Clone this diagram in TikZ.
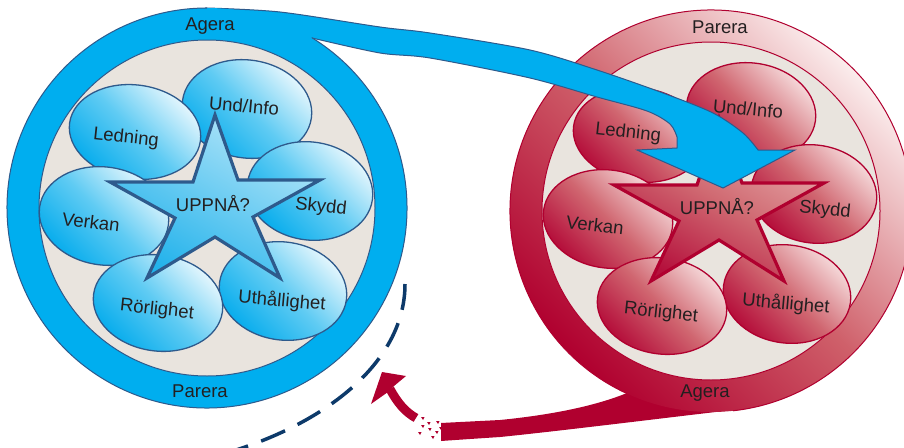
\documentclass[tikz,border=0pt]{standalone}
\usepackage{fontspec}
\setmainfont{Liberation Sans}
\begin{document}
\begin{tikzpicture}[x=1pt,y=-1pt]
\definecolor{cyanB}{HTML}{00AEEF}
\definecolor{navyB}{HTML}{2E5A8C}
\definecolor{beigeC}{HTML}{E9E4DE}
\definecolor{redD}{HTML}{B0002F}
\definecolor{dashcol}{HTML}{0D3A6A}
\definecolor{txtc}{HTML}{231F20}
\definecolor{bLight}{HTML}{F0FAFE}
\definecolor{bMid}{HTML}{5FCBF3}
\definecolor{bDark}{HTML}{00AAEC}
\definecolor{sLightB}{HTML}{B5E6F9}
\definecolor{sDarkB}{HTML}{22B2EB}
\definecolor{rLight}{HTML}{F8E2E2}
\definecolor{rMid}{HTML}{D06670}
\definecolor{rDark}{HTML}{B20535}
\definecolor{srLight}{HTML}{E8AFAF}
\definecolor{srMid}{HTML}{D06A72}
\definecolor{srDark}{HTML}{B5103C}
\definecolor{ringL}{HTML}{FBECEC}
\definecolor{ringM}{HTML}{CF606A}
\tikzset{
 lbl/.style={font=\fontsize{18.5}{21}\selectfont, text=txtc, inner sep=0pt},
 bellB/.style={draw=navyB, line width=1.3pt, top color=bLight, bottom color=bDark, middle color=bMid, shading angle=-45},
 starB/.style={draw=navyB, line width=3.2pt, line join=miter, top color=sLightB, bottom color=sDarkB, shading angle=-30},
 bellR/.style={draw=redD, line width=1.3pt, top color=rLight, bottom color=rDark, middle color=rMid, shading angle=-45},
 starR/.style={draw=redD, line width=3.2pt, line join=miter, top color=srLight, bottom color=srDark, middle color=srMid, shading angle=-30},
}
\newcommand{\Bubbles}[4]{%
  \path[#1, rotate around={-8:(40,-99)}] (40,-99) ellipse [x radius=65, y radius=49];
  \path[#1, rotate around={-8:(103,-17)}] (103,-17) ellipse [x radius=63, y radius=49];
  \path[#1, rotate around={-8:(76,83)}] (76,83) ellipse [x radius=64, y radius=49];
  \path[#1, rotate around={-8:(-72,-76)}] (-72,-76) ellipse [x radius=66, y radius=47];
  \path[#1, rotate around={-8:(-103,8)}] (-103,8) ellipse [x radius=65, y radius=49];
  \path[#1, rotate around={-8:(-49,95)}] (-49,95) ellipse [x radius=65, y radius=48];
  \path[#2] (8,-93) -- (31,-28) -- (113,-28) -- (46,9) -- (73,70) -- (8,29) -- (-60,70) -- (-32,10) -- (-97,-26) -- (-14,-26) -- cycle;
  \node[lbl, rotate=-6] (#3led) at #4 {Ledning};
  \node[lbl, rotate=-5] (#3und) at (37,-102) {Und/Info};
  \node[lbl, rotate=-6] (#3sky) at (114,-1) {Skydd};
  \node[lbl, rotate=-5] (#3uth) at (75,93) {Uthållighet};
  \node[lbl, rotate=-6] (#3ror) at (-50,102) {Rörlighet};
  \node[lbl, rotate=-7] (#3ver) at (-116,14) {Verkan};
  \node[lbl] (#3upp) at (6,-4) {UPPNÅ?};
}
\useasboundingbox (0,0) rectangle (904,447);
\fill[white] (0,0) rectangle (904,447);

% ---------- red (right) circle ----------
\fill[redD] (733,410) .. controls (680,416) and (560,431) .. (500,437)
   .. controls (470,439) and (455,440) .. (441,441) -- (441,423)
   .. controls (460,422) and (480,421) .. (500,420)
   .. controls (560,414) and (600,404) .. (627,393) -- (700,396) -- cycle;
\shade[even odd rule, top color=ringL, bottom color=redD, middle color=ringM, shading angle=-45]
   (711,211) circle (201) (711,211) circle (169);
\draw[redD, line width=1pt] (711,211) ++(114.8:201) arc[start angle=114.8, end angle=443.7, radius=201];
\draw[redD, line width=1pt, fill=beigeC] (711,211) circle (169);
\begin{scope}[shift={(711,211)}]
  \Bubbles{bellR}{starR}{r}{(-83,-78)}
\end{scope}
\node[lbl] (rpar) at (720,27) {Parera};
\node[lbl] (rage) at (705,393) {Agera};

% ---------- blue band arrow ----------
\path[fill=cyanB, draw=navyB, line width=1pt]
  plot[smooth] coordinates {(207,8) (280,12) (380,27) (430,33) (530,50) (597,70) (663,93) (713,113) (743,133) (758,150)}
  -- (795,150) -- (723,188) -- (637,150) -- (677,148)
  -- plot[smooth] coordinates {(677,137) (670,124) (647,111) (597,97) (530,78) (430,58) (380,53) (312,38)}
  -- (250,30) -- cycle;

% ---------- blue (left) circle ----------
\fill[cyanB, even odd rule] (207,208) circle (200) (207,208) circle (168);
\draw[navyB, line width=1pt] (207,208) ++(-58.3:200) arc[start angle=-58.3, end angle=270, radius=200];
\draw[navyB, line width=1pt, fill=beigeC] (207,208) circle (168);
\begin{scope}[shift={(207,208)}]
  \Bubbles{bellB}{starB}{b}{(-81,-70)}
\end{scope}
\node[lbl] (bage) at (210,26) {Agera};
\node[lbl] (bpar) at (200,391) {Parera};

% ---------- dashed curve ----------
\coordinate (dtop) at (405,284);
\coordinate (dend) at (236,450);
\draw[dashcol, line width=3.5pt, dash pattern=on 26pt off 14pt]
  (dtop) .. controls (405,360) and (330,420) .. (dend);

% ---------- red return arrow ----------
\coordinate (hb) at (390,389);
\coordinate (se) at (416,418);
\draw[redD, line width=9pt] (hb) .. controls (397,402) and (405,412) .. (se);
\fill[redD] (371,404) -- (382,372) -- (406,376) -- (394,386) -- (388,392) -- cycle;
\foreach \p in {(421,417),(427,422),(436,421),(428,428),(435,431),(418,432),(431,436),(421,425),(439,427)}
  \fill[redD] \p -- ++(3.5,0) -- ++(-1.5,3) -- cycle;
\end{tikzpicture}
\end{document}
